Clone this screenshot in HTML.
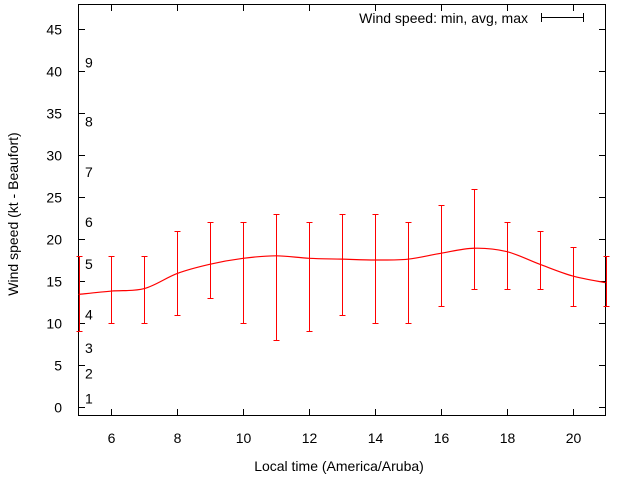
<!DOCTYPE html>
<html><head><meta charset="utf-8"><style>
body{margin:0;background:#fff}
svg{display:block;font-family:"Liberation Sans",sans-serif;font-size:14px}
</style></head><body>
<svg id="c" width="640" height="480">
<rect x="78.5" y="4.5" width="527" height="411" fill="none" stroke="#000"/>
<g id="axes"></g>
<g id="beau"></g>
<g id="series"></g>
<text x="14" y="210" transform="rotate(-90 18 210)" text-anchor="middle">Wind speed (kt - Beaufort)</text>
<text x="339" y="471" text-anchor="middle">Local time (America/Aruba)</text>
<g>
<text x="528" y="23" text-anchor="end">Wind speed: min, avg, max</text>
<path d="M541 17.5H584M541.5 13V22M583.5 13V22" stroke="#000" fill="none"/>
</g>
</svg>
<script>
const hours=[5,6,7,8,9,10,11,12,13,14,15,16,17,18,19,20,21];
const avgs=[13.4,13.8,14.1,15.9,17,17.7,18,17.7,17.6,17.5,17.6,18.3,18.9,18.5,17,15.6,14.8];
const mins=[9,10,10,11,13,10,8,9,11,10,10,12,14,14,14,12,12];
const maxs=[18,18,18,21,22,22,23,22,23,23,22,24,26,22,21,19,18];
const yTicks=[0,5,10,15,20,25,30,35,40,45];
const xTicks=[6,8,10,12,14,16,18,20];
const beaufort=[[1,1],[2,4],[3,7],[4,11],[5,17],[6,22],[7,28],[8,34],[9,41]];
const X=h=>78.5+(h-5)*527/16;
const Y=v=>407-8.4*v;
const NS="http://www.w3.org/2000/svg";
function mk(t,p,a){const e=document.createElementNS(NS,t);for(const k in a)e.setAttribute(k,a[k]);p.appendChild(e);return e;}
const ax=document.getElementById('axes');
yTicks.forEach(v=>{const y=Math.round(Y(v))+0.5;
const l=mk('path',ax,{d:`M79 ${y}h6M605 ${y}h-6`,stroke:'#000'});


const t=mk('text',ax,{x:62,y:y+5,'text-anchor':'end'});t.textContent=v;

});
xTicks.forEach(h=>{const x=Math.round(X(h))+0.5;
const l=mk('path',ax,{d:`M${x} 415v-6M${x} 5v6`,stroke:'#000'});


const t=mk('text',ax,{x:x,y:443,'text-anchor':'middle'});t.textContent=h;

});
const bg=document.getElementById('beau');
beaufort.forEach(([b,kt])=>{const t=mk('text',bg,{x:85,y:Y(kt)+5});t.textContent=b;

});
const sg=document.getElementById('series');
hours.forEach((h,i)=>{const x=Math.round(X(h))+0.5;const t=Math.round(Y(maxs[i]))+0.5,b=Math.round(Y(mins[i]))+0.5;
const e=mk('path',sg,{d:`M${x} ${t}V${b}M${x-3} ${t}h6M${x-3} ${b}h6`,stroke:'#f00',fill:'none'});

});
let d='';const P=hours.map((h,i)=>[X(h),Y(avgs[i])]);
P.forEach((p,i)=>{if(i==0){d=`M${p[0]} ${p[1]}`;return;}
const p0=P[i-2]||P[i-1],p1=P[i-1],p3=P[i+1]||p;
d+=`C${p1[0]+(p[0]-p0[0])/6} ${p1[1]+(p[1]-p0[1])/6} ${p[0]-(p3[0]-p1[0])/6} ${p[1]-(p3[1]-p1[1])/6} ${p[0]} ${p[1]}`;});
const ln=mk('path',sg,{d:d,stroke:'#f00',fill:'none','stroke-width':1.2});


</script>
</body></html>
